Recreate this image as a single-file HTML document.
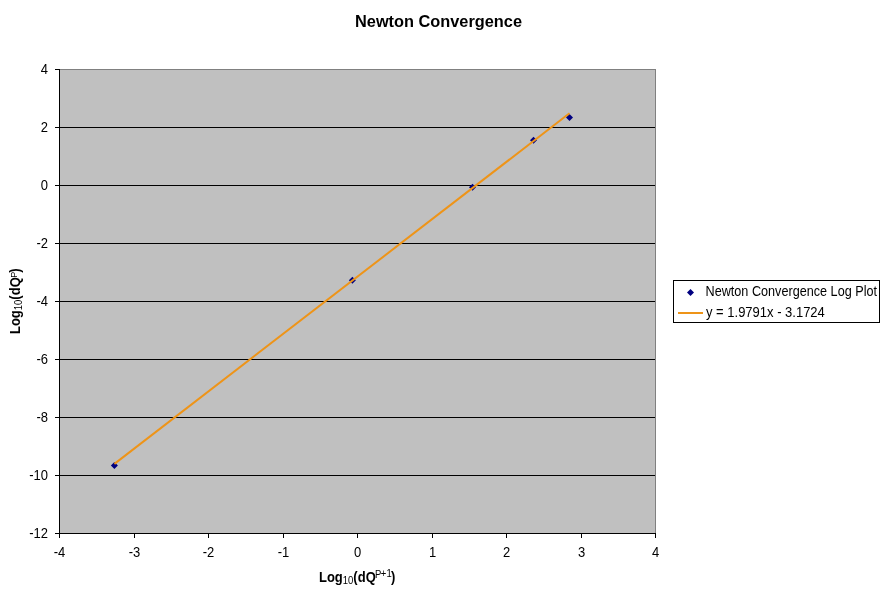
<!DOCTYPE html>
<html><head><meta charset="utf-8"><style>
html,body{margin:0;padding:0;background:#fff;width:881px;height:593px;overflow:hidden}
svg{display:block;will-change:transform}
text{font-family:"Liberation Sans", Arial, sans-serif;font-size:13px;fill:#000}
</style></head><body>
<svg width="881" height="593" viewBox="0 0 881 593">
<rect x="0" y="0" width="881" height="593" fill="#fff"/>
<rect x="59.5" y="69.5" width="596" height="464" fill="#c0c0c0" stroke="#808080" stroke-width="1"/>
<line x1="59" y1="127.5" x2="655" y2="127.5" stroke="#000" stroke-width="1"/>
<line x1="59" y1="185.5" x2="655" y2="185.5" stroke="#000" stroke-width="1"/>
<line x1="59" y1="243.5" x2="655" y2="243.5" stroke="#000" stroke-width="1"/>
<line x1="59" y1="301.5" x2="655" y2="301.5" stroke="#000" stroke-width="1"/>
<line x1="59" y1="359.5" x2="655" y2="359.5" stroke="#000" stroke-width="1"/>
<line x1="59" y1="417.5" x2="655" y2="417.5" stroke="#000" stroke-width="1"/>
<line x1="59" y1="475.5" x2="655" y2="475.5" stroke="#000" stroke-width="1"/>
<line x1="59.5" y1="69" x2="59.5" y2="538" stroke="#000" stroke-width="1"/>
<line x1="55" y1="533.5" x2="656" y2="533.5" stroke="#000" stroke-width="1"/>
<line x1="55" y1="69.5" x2="59" y2="69.5" stroke="#000" stroke-width="1"/>
<text transform="translate(48 74.0) scale(1 1.1)" text-anchor="end">4</text>
<line x1="55" y1="127.5" x2="59" y2="127.5" stroke="#000" stroke-width="1"/>
<text transform="translate(48 132.0) scale(1 1.1)" text-anchor="end">2</text>
<line x1="55" y1="185.5" x2="59" y2="185.5" stroke="#000" stroke-width="1"/>
<text transform="translate(48 190.0) scale(1 1.1)" text-anchor="end">0</text>
<line x1="55" y1="243.5" x2="59" y2="243.5" stroke="#000" stroke-width="1"/>
<text transform="translate(48 248.0) scale(1 1.1)" text-anchor="end">-2</text>
<line x1="55" y1="301.5" x2="59" y2="301.5" stroke="#000" stroke-width="1"/>
<text transform="translate(48 306.0) scale(1 1.1)" text-anchor="end">-4</text>
<line x1="55" y1="359.5" x2="59" y2="359.5" stroke="#000" stroke-width="1"/>
<text transform="translate(48 364.0) scale(1 1.1)" text-anchor="end">-6</text>
<line x1="55" y1="417.5" x2="59" y2="417.5" stroke="#000" stroke-width="1"/>
<text transform="translate(48 422.0) scale(1 1.1)" text-anchor="end">-8</text>
<line x1="55" y1="475.5" x2="59" y2="475.5" stroke="#000" stroke-width="1"/>
<text transform="translate(48 480.0) scale(1 1.1)" text-anchor="end">-10</text>
<line x1="55" y1="533.5" x2="59" y2="533.5" stroke="#000" stroke-width="1"/>
<text transform="translate(48 538.0) scale(1 1.1)" text-anchor="end">-12</text>
<line x1="59.5" y1="533" x2="59.5" y2="538" stroke="#000" stroke-width="1"/>
<text transform="translate(59.5 557) scale(1 1.1)" text-anchor="middle">-4</text>
<line x1="134.5" y1="533" x2="134.5" y2="538" stroke="#000" stroke-width="1"/>
<text transform="translate(134.5 557) scale(1 1.1)" text-anchor="middle">-3</text>
<line x1="208.5" y1="533" x2="208.5" y2="538" stroke="#000" stroke-width="1"/>
<text transform="translate(208.5 557) scale(1 1.1)" text-anchor="middle">-2</text>
<line x1="283.5" y1="533" x2="283.5" y2="538" stroke="#000" stroke-width="1"/>
<text transform="translate(283.5 557) scale(1 1.1)" text-anchor="middle">-1</text>
<line x1="357.5" y1="533" x2="357.5" y2="538" stroke="#000" stroke-width="1"/>
<text transform="translate(357.5 557) scale(1 1.1)" text-anchor="middle">0</text>
<line x1="432.5" y1="533" x2="432.5" y2="538" stroke="#000" stroke-width="1"/>
<text transform="translate(432.5 557) scale(1 1.1)" text-anchor="middle">1</text>
<line x1="506.5" y1="533" x2="506.5" y2="538" stroke="#000" stroke-width="1"/>
<text transform="translate(506.5 557) scale(1 1.1)" text-anchor="middle">2</text>
<line x1="581.5" y1="533" x2="581.5" y2="538" stroke="#000" stroke-width="1"/>
<text transform="translate(581.5 557) scale(1 1.1)" text-anchor="middle">3</text>
<line x1="655.5" y1="533" x2="655.5" y2="538" stroke="#000" stroke-width="1"/>
<text transform="translate(655.5 557) scale(1 1.1)" text-anchor="middle">4</text>
<path d="M114.4 462.0L117.9 465.5L114.4 469.0L110.9 465.5Z" fill="#000080"/>
<path d="M352.4 276.7L355.9 280.2L352.4 283.7L348.9 280.2Z" fill="#000080"/>
<path d="M472.5 183.7L476.0 187.2L472.5 190.7L469.0 187.2Z" fill="#000080"/>
<path d="M533.5 136.7L537.0 140.2L533.5 143.7L530.0 140.2Z" fill="#000080"/>
<path d="M569.5 113.9L573.0 117.4L569.5 120.9L566.0 117.4Z" fill="#000080"/>
<line x1="114.40" y1="463.90" x2="569.50" y2="113.29" stroke="#ee9418" stroke-width="2"/>
<text x="355" y="27" textLength="167" lengthAdjust="spacingAndGlyphs" style="font-weight:bold;font-size:16px">Newton Convergence</text>
<text transform="translate(319 582) scale(1 1.1)" style="font-weight:bold">Log<tspan style="font-weight:normal;font-size:9.5px" dy="2">10</tspan><tspan dy="-2">(dQ</tspan><tspan style="font-weight:normal;font-size:9.5px" dx="-0.8" dy="-3.6">P</tspan><tspan style="font-weight:normal;font-size:9.5px" dx="-0.4" dy="-1">+1</tspan><tspan dx="-0.8" dy="4.6">)</tspan></text>
<text transform="translate(20 334) rotate(-90) scale(1 1.1)" style="font-weight:bold">Log<tspan style="font-weight:normal;font-size:9.5px" dy="2">10</tspan><tspan dy="-2">(dQ</tspan><tspan style="font-weight:normal;font-size:9px" dx="-0.6" dy="-2.4">P</tspan><tspan dx="-0.8" dy="2.4">)</tspan></text>
<rect x="673.5" y="280.5" width="206" height="42" fill="#fff" stroke="#000" stroke-width="1"/>
<path d="M690.5 289L694 292.5L690.5 296L687 292.5Z" fill="#000080"/>
<line x1="678" y1="313" x2="703" y2="313" stroke="#ee9418" stroke-width="2"/>
<text transform="translate(705.5 296) scale(1 1.1)" textLength="171.5" lengthAdjust="spacingAndGlyphs">Newton Convergence Log Plot</text>
<text transform="translate(706 317) scale(1 1.1)">y = 1.9791x - 3.1724</text>
</svg>
</body></html>
